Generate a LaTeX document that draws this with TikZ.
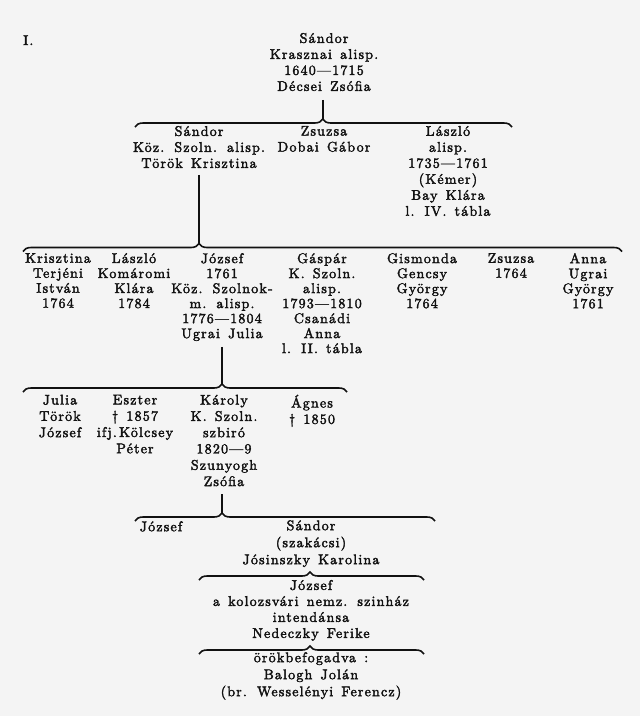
\documentclass[tikz,border=0pt]{standalone}
\usepackage{fontspec}
\setmainfont{lmroman10-regular.otf}[LetterSpace=8.5, WordSpace=1.4, RawFeature={embolden=2.5}]
\usetikzlibrary{decorations.pathreplacing,calc}
\definecolor{bg}{HTML}{F4F4F4}
\definecolor{ink}{HTML}{111111}
\begin{document}
\begin{tikzpicture}[x=1pt,y=-1pt,
  person/.style={anchor=north, align=center, inner sep=0pt, text=ink,
    font=\fontsize{14}{16}\selectfont,
    execute at begin node=\strut, execute at end node=\strut},
  tight/.style={font=\fontsize{14}{15}\selectfont},
  loose/.style={font=\fontsize{14}{16.3}\selectfont},
  wide/.style={font=\fontsize{14}{17}\selectfont},
  bracket/.style={draw=ink, line width=1.6pt, decorate,
    decoration={brace, amplitude=8pt, aspect=#1}},
  stem/.style={draw=ink, line width=1.9pt}]
\fill[bg] (0,0) rectangle (640,716);
\useasboundingbox (0,0) rectangle (640,716);

% roman numeral
\node[anchor=base west, inner sep=0pt, text=ink, font=\fontsize{14}{16}\selectfont] (num) at (23,45) {I.};

% generation 1
\node[person] (s0) at (324,32.8) {Sándor\\Krasznai alisp.\\1640—1715\\Décsei Zsófia};

% generation 2
\node[person] (s1) at (199,125.8) {Sándor\\Köz. Szoln. alisp.\\Török Krisztina};
\node[person] (zs1) at (324,125.8) {Zsuzsa\\Dobai Gábor};
\node[person] (l1) at (448,125.8) {László\\alisp.\\1735—1761\\(Kémer)\\Bay Klára\\l. IV. tábla};

% generation 3
\node[person,tight] (kr) at (58,253) {Krisztina\\Terjéni\\István\\1764};
\node[person,tight] (la) at (134,253) {László\\Komáromi\\Klára\\1784};
\node[person,tight] (jo) at (222,253) {József\\1761\\Köz. Szolnok-\\m. alisp.\\1776—1804\\Ugrai Julia};
\node[person,tight] (ga) at (322,253) {Gáspár\\K. Szoln.\\alisp.\\1793—1810\\Csanádi\\Anna\\l. II. tábla};
\node[person,tight] (gi) at (422,253) {Gismonda\\Gencsy\\György\\1764};
\node[person,tight] (zs2) at (511,253) {Zsuzsa\\1764};
\node[person,tight] (an) at (588,253) {Anna\\Ugrai\\György\\1761};

% generation 4
\node[person,loose] (ju) at (60,394.6) {Julia\\Török\\József};
\node[person,loose] (es) at (135,394.6) {Eszter\\† 1857\\ifj.\,Kölcsey\\Péter};
\node[person,loose] (ka) at (224,394.6) {Károly\\K. Szoln.\\szbiró\\1820—9\\Szunyogh\\Zsófia};
\node[person,loose] (ag) at (312,394.6) {Ágnes\\† 1850};

% generation 5
\node[person,wide] (jo2) at (161,519.1) {József};
\node[person,wide] (sa2) at (311,520.1) {Sándor\\(szakácsi)\\Jósinszky Karolina};

% generation 6
\node[person] (jo3) at (311,579.8) {József\\a kolozsvári nemz. szinház\\intendánsa\\Nedeczky Ferike};

% generation 7
\node[person,wide] (ad) at (311,652.1) {örökbefogadva :\\Balogh Jolán\\(br. Wesselényi Ferencz)};

% brace end points and tips
\coordinate (b1l) at (135,127);   \coordinate (b1r) at (512,127);   \coordinate (t1) at (322.7,119);
\coordinate (b2l) at (23,251.5);  \coordinate (b2r) at (622,251.5); \coordinate (t2) at (199,243.5);
\coordinate (b3l) at (23,392);    \coordinate (b3r) at (347,392);   \coordinate (t3) at (222,384);
\coordinate (b4l) at (135,521);   \coordinate (b4r) at (435,521);   \coordinate (t4) at (222,513);
\coordinate (b5l) at (199,580);   \coordinate (b5r) at (424,580);
\coordinate (b6l) at (199,654);   \coordinate (b6r) at (424,654);

\path[bracket=0.498] (b1l) -- (b1r);
\path[bracket=0.2938] (b2l) -- (b2r);
\path[bracket=0.6142] (b3l) -- (b3r);
\path[bracket=0.29] (b4l) -- (b4r);
\path[bracket=0.4933] (b5l) -- (b5r);
\path[bracket=0.4933] (b6l) -- (b6r);

% stems from parents to braces
\path[stem] ($(t1 |- s0.south)+(0,4)$) -- (t1);
\path[stem] ($(t2 |- s1.south)+(0,2)$) -- (t2);
\path[stem] ($(t3 |- jo.south)+(0,4)$) -- (t3);
\path[stem] ($(t4 |- ka.south)+(0,3)$) -- (t4);
\end{tikzpicture}
\end{document}
